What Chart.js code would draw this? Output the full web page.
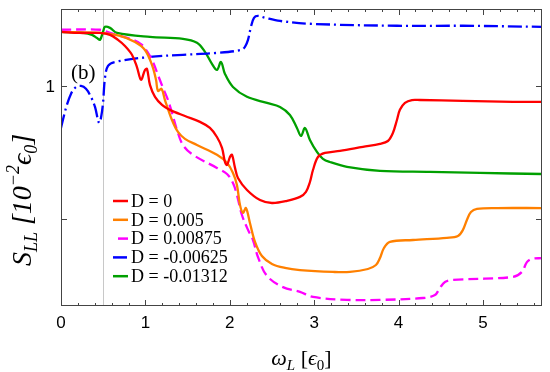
<!DOCTYPE html>
<html>
<head>
<meta charset="utf-8">
<script src="https://cdn.jsdelivr.net/npm/chart.js@4.4.0/dist/chart.umd.min.js"></script>
<style>
  html, body { margin: 0; padding: 0; background: #fff; }
</style>
</head>
<body>
<canvas id="grafico" width="550" height="372"></canvas>
<script>
// series (x in eps0, S_LL in 10^-2 eps0)
const labels = ['D = 0', 'D = 0.005', 'D = 0.00875', 'D = -0.00625', 'D = -0.01312'];

const redX = [0, 0.225, 0.462, 0.581, 0.675, 0.758, 0.841, 0.900, 0.948, 0.995, 1.019, 1.054, 1.114, 1.197, 1.291, 1.469, 1.647, 1.765, 1.848, 1.908, 1.943, 1.967, 2.002, 2.026, 2.062, 2.097, 2.204, 2.358, 2.500, 2.678, 2.832, 2.903, 2.950, 2.986, 3.045, 3.128, 3.306, 3.578, 3.780, 3.874, 3.933, 3.981, 4.016, 4.076, 4.159, 4.253, 4.763, 5.355, 5.7];
const redY = [1.203, 1.199, 1.199, 1.192, 1.173, 1.150, 1.117, 1.071, 1.023, 1.060, 1.064, 1.004, 0.959, 0.929, 0.910, 0.887, 0.865, 0.842, 0.808, 0.767, 0.714, 0.703, 0.733, 0.741, 0.692, 0.654, 0.609, 0.571, 0.560, 0.568, 0.583, 0.602, 0.639, 0.684, 0.733, 0.748, 0.756, 0.771, 0.782, 0.793, 0.823, 0.872, 0.910, 0.936, 0.947, 0.947, 0.944, 0.940, 0.940];

const orangeX = [0, 0.462, 0.699, 0.877, 0.995, 1.078, 1.126, 1.149, 1.191, 1.232, 1.315, 1.386, 1.469, 1.611, 1.848, 1.967, 2.038, 2.085, 2.121, 2.156, 2.192, 2.239, 2.299, 2.381, 2.500, 2.654, 2.832, 3.223, 3.424, 3.637, 3.732, 3.780, 3.827, 3.898, 4.171, 4.573, 4.704, 4.763, 4.810, 4.858, 4.929, 5.166, 5.7];
const orangeY = [1.203, 1.199, 1.188, 1.165, 1.135, 1.079, 1.023, 0.981, 0.989, 0.947, 0.872, 0.827, 0.801, 0.778, 0.741, 0.711, 0.673, 0.628, 0.553, 0.523, 0.541, 0.485, 0.414, 0.361, 0.331, 0.316, 0.308, 0.301, 0.301, 0.312, 0.327, 0.353, 0.391, 0.414, 0.421, 0.429, 0.436, 0.459, 0.496, 0.526, 0.538, 0.541, 0.541];

const magentaX = [0, 0.462, 0.581, 0.853, 0.960, 1.031, 1.090, 1.149, 1.209, 1.268, 1.315, 1.374, 1.445, 1.564, 1.848, 1.967, 2.038, 2.085, 2.144, 2.216, 2.275, 2.334, 2.441, 2.630, 2.832, 2.986, 3.389, 3.780, 4.289, 4.431, 4.490, 4.550, 4.644, 5.355, 5.462, 5.521, 5.580, 5.7];
const magentaY = [1.211, 1.211, 1.199, 1.173, 1.154, 1.124, 1.090, 1.041, 0.992, 0.947, 0.899, 0.835, 0.778, 0.741, 0.692, 0.669, 0.635, 0.590, 0.515, 0.459, 0.421, 0.357, 0.286, 0.244, 0.226, 0.207, 0.196, 0.196, 0.203, 0.214, 0.241, 0.263, 0.271, 0.282, 0.301, 0.338, 0.350, 0.353];

const blueX = [0, 0.059, 0.118, 0.178, 0.237, 0.296, 0.355, 0.403, 0.450, 0.474, 0.498, 0.521, 0.557, 0.640, 1.054, 1.445, 1.848, 2.133, 2.180, 2.216, 2.251, 2.287, 2.334, 2.417, 2.595, 2.986, 3.981, 4.763, 5.7];
const blueY = [0.842, 0.917, 0.970, 0.996, 1.000, 0.989, 0.959, 0.921, 0.861, 0.880, 0.936, 1.030, 1.075, 1.090, 1.109, 1.117, 1.124, 1.135, 1.147, 1.173, 1.222, 1.256, 1.263, 1.256, 1.244, 1.233, 1.226, 1.226, 1.222];

const greenX = [0, 0.261, 0.367, 0.427, 0.462, 0.498, 0.521, 0.581, 0.664, 1.054, 1.445, 1.611, 1.706, 1.789, 1.848, 1.896, 1.943, 2.038, 2.204, 2.441, 2.595, 2.713, 2.796, 2.844, 2.891, 2.950, 3.033, 3.104, 3.187, 3.389, 3.780, 4.372, 4.964, 5.7];
const greenY = [1.203, 1.199, 1.192, 1.180, 1.173, 1.203, 1.222, 1.218, 1.199, 1.184, 1.177, 1.162, 1.128, 1.083, 1.060, 1.090, 1.045, 0.996, 0.959, 0.936, 0.921, 0.891, 0.842, 0.812, 0.842, 0.797, 0.752, 0.726, 0.714, 0.696, 0.681, 0.677, 0.673, 0.669];

const xTicks = [0, 1, 2, 3, 4, 5];
const yTicks = [0.5, 1];
const yTickLabels = ['', '1'];
const markerX = 0.5;

const colors = ['#ff0000', '#ff8000', '#ff00ff', '#0000ff', '#00a000'];
const dashes = [[], [], [10, 5], [14, 4, 2, 4], []];

function pts(xs, ys) {
  return xs.map((x, i) => ({ x: x, y: ys[i] }));
}

const series = [pts(redX, redY), pts(orangeX, orangeY), pts(magentaX, magentaY), pts(blueX, blueY), pts(greenX, greenY)];

function richText(ctx, parts, x, y, align) {
  let w = 0;
  parts.forEach(p => { ctx.font = p.f; w += ctx.measureText(p.t).width; });
  let cx = align === 'center' ? x - w / 2 : x;
  parts.forEach(p => {
    ctx.font = p.f;
    ctx.fillText(p.t, cx, y + (p.dy || 0));
    cx += ctx.measureText(p.t).width;
  });
}

const framePlugin = {
  id: 'frame',
  beforeDatasetsDraw(chart) {
    const ctx = chart.ctx, ca = chart.chartArea;
    const px = Math.round(chart.scales.x.getPixelForValue(markerX)) + 0.5;
    ctx.save();
    ctx.strokeStyle = '#c8c8c8';
    ctx.lineWidth = 1;
    ctx.beginPath();
    ctx.moveTo(px, ca.top);
    ctx.lineTo(px, ca.bottom);
    ctx.stroke();
    ctx.restore();
  },
  afterDraw(chart) {
    const ctx = chart.ctx, ca = chart.chartArea;
    const xs = chart.scales.x, ys = chart.scales.y;
    ctx.save();
    ctx.strokeStyle = '#444';
    ctx.lineWidth = 1;
    ctx.strokeRect(ca.left + 0.5, ca.top + 0.5, ca.right - ca.left - 1, ca.bottom - ca.top - 1);

    // x ticks, major and minor, on bottom and top
    ctx.beginPath();
    for (let k = 0; k * 0.2 <= xs.max + 1e-9; k++) {
      const v = k * 0.2;
      const p = Math.round(xs.getPixelForValue(v)) + 0.5;
      const len = k % 5 === 0 ? 6 : 3;
      ctx.moveTo(p, ca.bottom);
      ctx.lineTo(p, ca.bottom - len);
      ctx.moveTo(p, ca.top);
      ctx.lineTo(p, ca.top + len);
    }
    yTicks.forEach(v => {
      const p = Math.round(ys.getPixelForValue(v)) + 0.5;
      ctx.moveTo(ca.left, p);
      ctx.lineTo(ca.left + 6, p);
      ctx.moveTo(ca.right, p);
      ctx.lineTo(ca.right - 6, p);
    });
    ctx.stroke();

    ctx.fillStyle = '#000';
    ctx.font = '17px "Liberation Sans", Arial, sans-serif';
    ctx.textAlign = 'center';
    ctx.textBaseline = 'middle';
    xTicks.forEach(v => ctx.fillText(String(v), xs.getPixelForValue(v), ca.bottom + 17));
    ctx.textAlign = 'right';
    yTicks.forEach((v, i) => ctx.fillText(yTickLabels[i], ca.left - 6, ys.getPixelForValue(v) + 1));

    // panel label
    ctx.textAlign = 'left';
    ctx.font = '21px "Liberation Serif", serif';
    ctx.fillText('(b)', 71, 73);

    // x title
    ctx.textBaseline = 'alphabetic';
    const serif = '"Liberation Serif", "DejaVu Serif", serif';
    richText(ctx, [
      { t: 'ω', f: 'italic 22px ' + serif },
      { t: 'L', f: 'italic 15px ' + serif, dy: 5 },
      { t: ' [', f: '22px ' + serif },
      { t: 'ϵ', f: 'italic 22px ' + serif },
      { t: '0', f: '15px ' + serif, dy: 5 },
      { t: ']', f: '22px ' + serif }
    ], (ca.left + ca.right) / 2, 365, 'center');

    // y title
    ctx.translate(31, 200);
    ctx.rotate(-Math.PI / 2);
    richText(ctx, [
      { t: 'S', f: 'italic 28px ' + serif },
      { t: 'LL', f: 'italic 18px ' + serif, dy: 6 },
      { t: ' [', f: 'italic 28px ' + serif },
      { t: '10', f: 'italic 28px ' + serif },
      { t: '−2', f: 'italic 18px ' + serif, dy: -12 },
      { t: 'ϵ', f: 'italic 28px ' + serif },
      { t: '0', f: 'italic 18px ' + serif, dy: 6 },
      { t: ']', f: 'italic 28px ' + serif }
    ], 0, 0, 'center');
    ctx.restore();

    // legend
    ctx.save();
    ctx.font = '18px "Liberation Serif", serif';
    ctx.textBaseline = 'middle';
    ctx.textAlign = 'left';
    chart.data.datasets.forEach((ds, i) => {
      const y = 201 + i * 18.8;
      ctx.strokeStyle = ds.borderColor;
      ctx.lineWidth = 2.5;
      ctx.setLineDash(ds.borderDash);
      ctx.lineDashOffset = i === 2 ? -5 : 0;
      ctx.beginPath();
      ctx.moveTo(113, y);
      ctx.lineTo(128, y);
      ctx.stroke();
      ctx.setLineDash([]);
      ctx.fillStyle = '#000';
      ctx.fillText(ds.label, 131, y + 1);
    });
    ctx.restore();
  }
};

new Chart(document.getElementById('grafico').getContext('2d'), {
  type: 'line',
  data: {
    datasets: series.map((d, i) => ({
      label: labels[i],
      data: d,
      borderColor: colors[i],
      borderWidth: 2.3,
      borderDash: dashes[i],
      pointRadius: 0,
      fill: false,
      tension: 0.35
    }))
  },
  options: {
    responsive: false,
    animation: false,
    layout: {
      padding: { left: 61, right: 8, top: 9, bottom: 66 }
    },
    scales: {
      x: { type: 'linear', min: 0, max: 5.7, display: false },
      y: { type: 'linear', min: 0.173, max: 1.289, display: false }
    },
    plugins: {
      legend: { display: false },
      tooltip: { enabled: false }
    }
  },
  plugins: [framePlugin]
});
</script>
</body>
</html>
